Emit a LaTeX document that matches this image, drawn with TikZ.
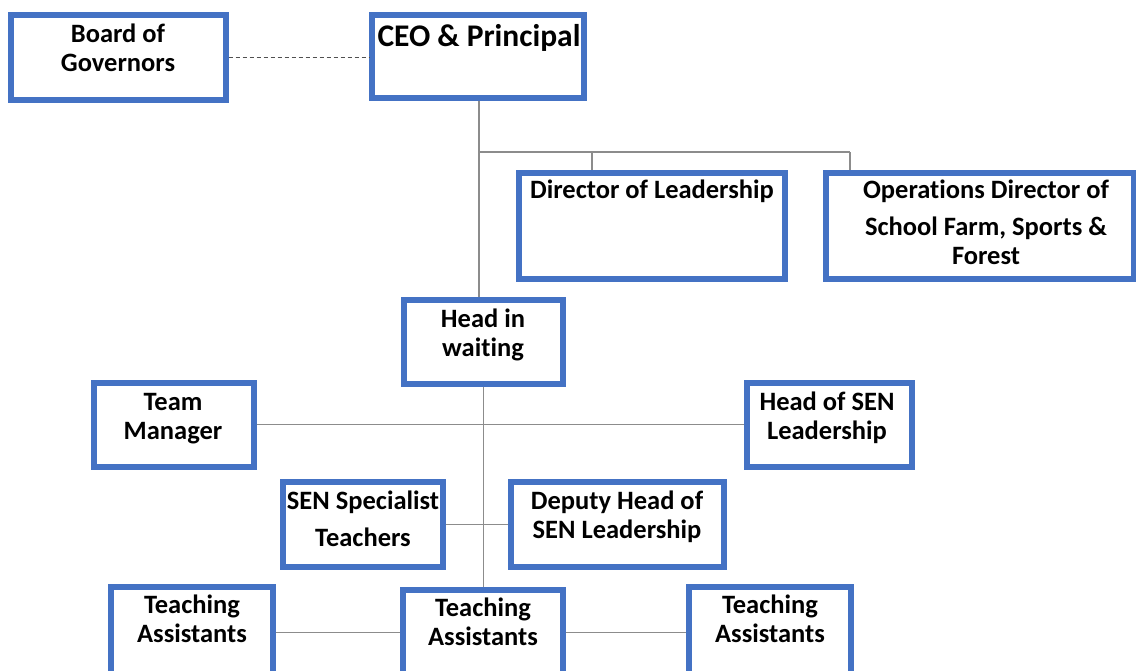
\documentclass[tikz,border=0pt]{standalone}
\usepackage{fontspec}
\setmainfont{Carlito}[Ligatures={NoCommon,NoContextual},Contextuals={NoAlternate}]
\definecolor{boxblue}{HTML}{4472C4}
\definecolor{linkgray}{HTML}{8C8C8C}
\definecolor{dashgray}{HTML}{505050}
\newcommand{\ltxt}[1]{\parbox[t]{360pt}{\centering #1}}
% keeps "t" and "i" as separate glyphs
\newcommand{\tisep}{\kern0pt }
\begin{document}
\begin{tikzpicture}[x=1pt,y=-1pt,
  orgbox/.style={draw=boxblue, line width=5.5pt, fill=white, rectangle, inner sep=0pt, anchor=north west},
  lbl/.style={inner sep=0pt, anchor=base, font=\fontsize{26.5}{29}\selectfont\bfseries},
  biglbl/.style={inner sep=0pt, anchor=base, font=\fontsize{31.5}{34}\selectfont\bfseries},
  link/.style={draw=linkgray, line width=1.4pt},
  dashlink/.style={draw=dashgray, line width=1pt, dash pattern=on 4pt off 3pt}]
\fill[white] (0,0) rectangle (1136,670);
\useasboundingbox (0,0) rectangle (1136,670);
\clip (0,0) rectangle (1136,670);

% boxes (placed by their outer corner)
\node[orgbox, minimum width=215pt, minimum height=85pt] (bog) at (8,12) {};
\node[orgbox, minimum width=212pt, minimum height=83pt] (ceo) at (369,12) {};
\node[orgbox, minimum width=266pt, minimum height=106pt] (dir) at (516,170) {};
\node[orgbox, minimum width=308pt, minimum height=106pt] (ops) at (823,170) {};
\node[orgbox, minimum width=159pt, minimum height=84pt] (hiw) at (401,297) {};
\node[orgbox, minimum width=160pt, minimum height=84pt] (tm) at (91,380) {};
\node[orgbox, minimum width=165pt, minimum height=84pt] (hsen) at (744,380) {};
\node[orgbox, minimum width=160pt, minimum height=85pt] (sst) at (280,479) {};
\node[orgbox, minimum width=213pt, minimum height=85pt] (dh) at (508,479) {};
\node[orgbox, minimum width=162pt, minimum height=91pt] (tal) at (108,584) {};
\node[orgbox, minimum width=160pt, minimum height=85pt] (tac) at (400,587) {};
\node[orgbox, minimum width=162pt, minimum height=91pt] (tar) at (686,584) {};

% texts
\node[lbl] (bog-t) at (118,42) {\ltxt{Board of\\Governors}};
\node[biglbl] (ceo-t) at (479,46) {\ltxt{CEO \& Principal}};
\node[lbl] (dir-t) at (652,198) {\ltxt{Director of Leadership}};
\node[lbl] (ops-t) at (986,198) {\ltxt{Operat\tisep ions Director of\\[8pt]School Farm, Sports \&\\Forest}};
\node[lbl] (hiw-t) at (483,327) {\ltxt{Head in\\wait\tisep ing}};
\node[lbl] (tm-t) at (173,410) {\ltxt{Team\\Manager}};
\node[lbl] (hsen-t) at (827,410) {\ltxt{Head of SEN\\Leadership}};
\node[lbl] (sst-t) at (363,509) {\ltxt{SEN Specialist\\[8pt]Teachers}};
\node[lbl] (dh-t) at (617,509) {\ltxt{Deputy Head of\\SEN Leadership}};
\node[lbl] (tal-t) at (192,613) {\ltxt{Teaching\\Assistants}};
\node[lbl] (tac-t) at (483,616) {\ltxt{Teaching\\Assistants}};
\node[lbl] (tar-t) at (770,613) {\ltxt{Teaching\\Assistants}};

% branch points of the upper level
\coordinate (top-j) at (479,152);
\coordinate (dir-j) at (592,152);
\coordinate (ops-j) at (850,152);

% connectors
\draw[dashlink] (bog.east) -- (bog.east -| ceo.west);
\draw[link] (ceo.south -| top-j) -- (hiw.north -| top-j);
\draw[link] (top-j) -- (ops-j);
\draw[link] (dir-j) -- (dir-j |- dir.north);
\draw[link] (ops-j) -- (ops-j |- ops.north);
\draw[link] (hiw.south) -- (hiw.south |- tac.north);
\draw[link] (tm.east) -- (hsen.west);
\draw[link] (sst.east) -- (dh.west);
\draw[link] (tal.east) -- (tac.west);
\draw[link] (tac.east) -- (tar.west);
\end{tikzpicture}
\end{document}
